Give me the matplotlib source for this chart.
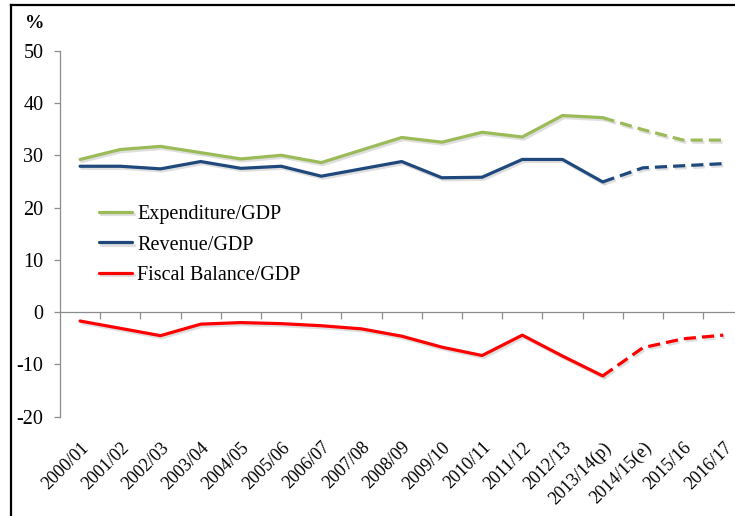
import matplotlib
matplotlib.use("Agg")
import matplotlib.pyplot as plt
import matplotlib.patheffects as pe
from matplotlib.lines import Line2D

# Data (% of GDP); last four years are estimates/projections (dashed)
years = ['2000/01', '2001/02', '2002/03', '2003/04', '2004/05', '2005/06',
         '2006/07', '2007/08', '2008/09', '2009/10', '2010/11', '2011/12',
         '2012/13', '2013/14(p)', '2014/15(e)', '2015/16', '2016/17']
expenditure = [29.2, 31.1, 31.7, 30.5, 29.3, 30.0, 28.6, 31.0, 33.4, 32.5,
               34.4, 33.5, 37.6, 37.2, 34.9, 32.9, 32.9]
revenue = [27.9, 27.9, 27.4, 28.8, 27.5, 27.9, 26.0, 27.4, 28.8, 25.7,
           25.8, 29.2, 29.2, 24.9, 27.6, 28.0, 28.4]
balance = [-1.7, -3.1, -4.5, -2.3, -2.0, -2.2, -2.6, -3.2, -4.6, -6.7,
           -8.3, -4.4, -8.4, -12.2, -6.8, -5.1, -4.4]
split = 13  # index of 2013/14(p): solid up to here, dashed after

plt.rcParams['font.family'] = ['Liberation Serif', 'DejaVu Serif']
plt.rcParams['axes.unicode_minus'] = False

fig = plt.figure(figsize=(7.35, 5.16), dpi=100)
W, H = 735, 516
ax = fig.add_axes([60 / W, 1 - 416.7 / H, 683.4 / W, (416.7 - 50.7) / H])

shadow = [pe.SimpleLineShadow(offset=(1.2, -1.5), shadow_color='gray', alpha=0.25),
          pe.Normal()]
series = [
    (expenditure, '#9BBB59', 'Expenditure/GDP'),
    (revenue, '#1F497D', 'Revenue/GDP'),
    (balance, '#FF0000', 'Fiscal Balance/GDP'),
]
x = list(range(len(years)))
for vals, col, lab in series:
    ax.plot(x[:split + 1], vals[:split + 1], color=col, lw=2.3, label=lab,
            solid_capstyle='round', path_effects=shadow)
    ax.plot(x[split:], vals[split:], color=col, lw=2.3, dashes=(3.8, 1.9),
            path_effects=shadow)

ax.set_xlim(-0.5, len(years) - 0.5)
ax.set_ylim(-20, 50)
ax.set_yticks(range(-20, 51, 10))

spine_col = '#8C8C8C'
for s in ['top', 'right']:
    ax.spines[s].set_visible(False)
ax.spines['left'].set_color(spine_col)
ax.spines['left'].set_linewidth(0.9)
ax.spines['bottom'].set_position(('data', 0))
ax.spines['bottom'].set_color(spine_col)
ax.spines['bottom'].set_linewidth(0.9)

ax.tick_params(axis='y', direction='out', length=4, width=0.9, color=spine_col,
               labelsize=14.5, pad=8)
ax.set_xticks([i + 0.5 for i in range(len(years))], minor=True)
ax.set_xticks([])
ax.tick_params(axis='x', which='minor', direction='out', length=5, width=0.9,
               color=spine_col, labelbottom=False)

# category labels along the bottom of the plot area
sec = ax.secondary_xaxis('bottom')
sec.set_xticks(x, years, rotation=45, ha='right', rotation_mode='anchor',
               fontsize=13)
sec.spines['bottom'].set_visible(False)
sec.tick_params(length=0, pad=16)

ax.legend(loc='center left', bbox_to_anchor=(99 / W, 1 - 245 / H),
          bbox_transform=fig.transFigure, frameon=False, fontsize=14.5,
          handlelength=1.65, handletextpad=0.25, labelspacing=0.58,
          borderpad=0, borderaxespad=0)

fig.text(25 / W, 1 - 23 / H, '%', fontsize=14, fontweight='bold',
         va='center', ha='left')

# page frame around the figure
fig.add_artist(Line2D([11 / W, 1], [1 - 4.5 / H, 1 - 4.5 / H], color='black',
                      lw=1.6, transform=fig.transFigure))
fig.add_artist(Line2D([11 / W, 11 / W], [0, 1 - 4.5 / H], color='black',
                      lw=1.6, transform=fig.transFigure))

fig.savefig('out.png', dpi=100)
